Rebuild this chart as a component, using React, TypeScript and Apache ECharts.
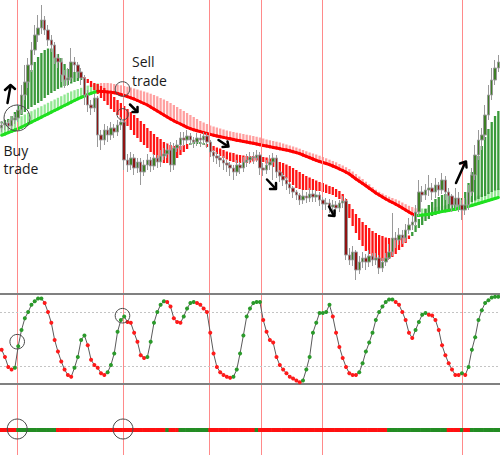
import React, { useEffect, useRef } from "react";
import * as echarts from "echarts";

// ---- price candles (arbitrary price units) ----
const opens = [
  172,175,177,174,180,182,190,205,218,235,
  250,265,272,280,270,260,255,242,238,225,
  220,222,238,235,228,222,205,195,192,202,
  165,160,170,165,172,168,175,178,140,135,
  142,132,138,128,135,140,134,142,138,144,
  146,150,135,152,155,162,160,164,160,158,
  162,160,164,158,148,144,142,140,137,135,
  132,128,135,132,138,140,143,142,145,132,
  130,135,138,142,128,124,120,116,112,108,
  105,100,104,102,106,103,105,100,96,97,
  93,95,92,97,99,45,40,48,30,38,
  42,38,44,40,42,32,38,42,48,62,
  60,65,62,70,75,78,88,108,105,110,
  112,108,115,110,120,108,104,95,102,95,
  90,95,108,125,145,160,165,185,205,220,
  232,
];
const closes = [
  175,177,174,180,182,190,205,218,235,250,
  265,272,280,270,260,255,242,238,225,220,
  222,238,235,228,222,205,195,192,202,165,
  160,170,165,172,168,175,178,140,135,142,
  132,138,128,135,140,134,142,138,144,146,
  150,135,152,155,162,160,164,160,158,162,
  160,164,158,148,144,142,140,137,135,132,
  128,135,132,138,140,143,142,145,132,130,
  135,138,142,128,124,120,116,112,108,105,
  100,104,102,106,103,105,100,96,97,93,
  95,92,97,99,45,40,48,30,38,42,
  38,44,40,42,32,38,42,48,62,60,
  65,62,70,75,78,88,108,105,110,112,
  108,115,110,120,108,104,95,102,95,90,
  95,108,125,145,160,165,185,205,220,232,
  238,
];
const highs = [
  179,181,180,184,186,196,215,235,242,258,
  275,285,295,284,275,265,258,246,242,230,
  232,252,243,238,232,225,210,200,206,204,
  170,176,174,178,176,180,183,180,146,148,
  146,142,142,140,146,143,146,145,150,152,
  156,158,157,160,168,168,170,167,163,167,
  166,168,167,160,150,148,146,144,140,138,
  135,140,138,143,146,148,148,150,148,137,
  140,145,147,145,130,127,123,118,114,110,
  107,110,108,112,110,110,108,103,102,101,
  100,99,100,104,102,52,54,50,44,48,
  46,50,47,47,45,42,47,56,87,68,
  72,70,76,82,85,95,120,114,116,125,
  117,122,118,127,124,112,106,112,108,100,
  102,115,132,155,170,172,195,215,232,240,
  245,
];
const lows = [
  168,170,169,170,176,178,186,200,212,228,
  245,258,266,265,254,248,236,232,218,212,
  214,218,228,222,215,195,188,185,188,153,
  150,155,158,160,162,164,170,130,128,130,
  125,127,115,124,130,128,130,132,133,140,
  142,128,130,148,150,154,156,155,152,154,
  153,155,152,143,138,136,133,130,128,124,
  120,124,126,128,133,136,136,138,125,124,
  126,130,120,122,118,114,110,106,102,100,
  95,96,97,98,98,98,94,90,90,87,
  88,86,88,92,40,35,34,20,26,32,
  30,33,34,35,26,28,34,40,44,52,
  55,56,58,66,70,74,84,98,100,104,
  100,102,104,106,100,96,88,90,88,80,
  85,90,104,120,140,150,160,180,200,215,
  228,
];

// ---- fast ribbon: fast MA vs. middle MA ----
const fastMA = [
  178.5,180,181,184,188,194,201,208,219,230,
  238,243,247,250,251.5,251.5,250,246,242,236,
  231,229,228,229,228,220,217,213,210,206,
  202,199,195,191,188,185,181,178,174,170,
  165,162,158,155,152,148,145,142,139,137,
  137,137.5,139,142,145,148,151,157,158,158,
  158,157,153,151,149,146,144,142,140.5,139,
  138,137,137,137,137,137.5,138.5,139.5,139.5,138,
  136.5,135,133,130,127,125,121.5,118,115,112,
  111,110,110,110,110,109,109,108,107,106,
  105,103,101,97,90,82,74,67,60,54,
  49,46,43,41,39.5,39,39.5,41,43,46,
  50,53,57,61,68,75,81,86,91,95,
  98,101,103,105,106,105.5,104,102,101,102,
  108,117,128,136,144,154,163,171,178,184,
  189,
];
const midMA = [
  176.5,177,177.5,179,181,183,185,188,191,193,
  195,197,199,202,205,207,209,211,212.5,214,
  215,216.5,218,219,220,223,221,219,217,216,
  214,212,209,206,203,200,197,194,191,188,
  185,182,179,176,172,169,166,163,161,158,
  156.5,155,154,154,154,155,156,155,156,156,
  156,155,156,155,154,152.5,151.5,150,148.5,147.5,
  147,145.5,145,144.5,144,144,144,144,143.5,143,
  142.5,141.5,141,139.5,138,137,135.5,134,132,130,
  128,126,124,122.5,121,119.5,118,117,115.5,114,
  113,111,109,106,101,96,91,86,82,78,
  75,72,69,67,65,64,62.5,62,62,62,
  62,63,63.5,64.5,64,68,72,75,79,81,
  84,85,87,88,89,89,90,90.5,91.5,93,
  95,96.5,98,99.5,101,103,104,106,108,109.5,
  110,
];

// ---- slow band: slow MA (thick line) and its companion edge ----
const slowMA = [
  164.7,166,167.3,168.7,170,171.3,172.8,174.5,176.2,177.8,
  179.5,181.2,182.8,184.5,186.2,187.8,189.5,191.2,192.8,194.5,
  196.2,197.8,199.5,201.2,202.6,204,205.4,206.6,207.8,208.7,
  208.6,208.4,208.1,207.7,207.2,206.5,205.5,204.5,203.4,202.2,
  201,199.5,198,196.5,195,193,191,189,187,185,
  183,181,179.2,177.5,176,174.3,172.7,171.4,170.2,169.3,
  168.4,167.4,166.5,165.6,164.8,164,163.3,162.6,161.9,161.2,
  160.5,159.8,159.2,158.6,158,157.3,156.7,156,155.3,154.6,
  154,153.3,152.6,152,151.3,150.6,150,149.2,148.3,147.4,
  146.3,145,143.7,142.3,141,139.7,138.5,137.5,136.5,135.3,
  134,132.7,131,129.5,127.8,126,123.5,121,118.7,116.5,
  114.2,111.8,109.5,107,105,103,101,99.2,97.5,95.8,
  94,92,90,88,86,84.4,84.6,84.9,85.3,85.8,
  86.4,87,87.7,88.4,89,89.6,90.2,90.8,91.5,92.2,
  92.8,93.6,94.5,95.5,96.5,97.5,98.5,99.5,100.5,101.5,
  102.5,
];
const slowEdge = [
  173.8,175.5,177.2,178.8,180.5,182.2,183.8,185.5,187.2,188.8,
  190.5,192.2,193.8,195.5,197.2,198.8,200.5,202.2,203.8,205.5,
  207.2,208.6,209.8,211,212.2,213.3,214.4,215.3,216,216.6,
  217,217,217,216.7,216,215.3,214.7,214,213.3,212.5,
  211.5,210.5,209.5,208.5,207.5,206.3,205,203.7,202,200.5,
  199,197,195,193,191,189,187,185,183,181,
  179,177.5,176,174.5,173.5,172.5,171.5,170.5,169.5,168.7,
  168,167.3,166.7,166,165.3,164.7,164,163.3,162.5,161.5,
  160.5,159.7,159,158.3,157.5,156.5,155.5,154.5,153.5,152.5,
  151.3,150,148.7,147.5,146.5,145.5,144.3,143,141.7,140.3,
  139,137.7,136,134.5,132.8,131,128.5,126,123.5,121,
  118.3,115.7,113,110.3,108.2,106.5,104.8,103.3,102,100.7,
  99.3,97.5,95.8,94.2,93,91.7,91.2,91.5,91.8,92.1,
  92.4,92.8,93.3,94,94.7,95.5,96.5,97.5,98.5,99.5,
  100.5,101.5,102.5,103.5,104.5,105.5,106.5,108,109,110.3,
  111.5,
];

// ---- stochastic oscillator (0-100) ----
const stoch = [
  38,30,19,16,18,42,60,73,80,88,
  92,95,95,90,80,68,49,36,25,16,
  10,8,18,30,49,54,43,27,21,18,
  12,10,13,21,34,58,71,75,69,68,
  57,47,32,29,30,47,68,80,88,92,
  91,86,73,69,68,75,84,90,91,90,
  88,84,80,57,34,19,13,10,8,7,
  8,16,34,54,75,84,90,91,91,71,
  58,49,46,30,21,16,12,8,6,4,
  2,4,16,30,57,68,79,79,80,88,
  75,57,41,29,19,12,10,10,13,23,
  36,46,57,71,80,86,91,94,94,91,
  88,80,71,57,51,60,69,77,79,77,
  76,71,60,43,32,23,16,10,10,12,
  10,19,38,52,71,82,90,93,96,97,
  97,
];
const stochBounds = [100, 0];
const stochLevels = [80, 20];

// ---- trend state bar (1 = up / green, 0 = down / red) ----
const trendState = [
  0,0,0,0,0,1,1,1,1,1,
  1,1,1,1,1,1,1,0,0,0,
  0,0,0,0,0,0,0,0,0,0,
  0,0,0,0,0,0,0,0,0,0,
  0,0,0,0,0,0,0,0,0,0,
  1,0,0,0,1,1,1,1,1,1,
  1,1,1,0,0,0,0,0,0,0,
  0,0,0,0,0,0,0,1,0,0,
  0,0,0,0,0,0,0,0,0,0,
  0,0,0,0,0,0,0,0,0,0,
  0,0,0,0,0,0,0,0,0,0,
  0,0,0,0,0,0,0,1,1,1,
  1,1,1,1,1,1,1,1,1,1,
  1,1,1,1,1,0,0,0,0,1,
  0,0,1,1,1,1,1,1,1,1,
  1,
];

// ---- trade signal bars (bar position of each vertical line) ----
const signalBars = [4.6, 36.6, 62.6, 78.3, 96.8, 139.0];

const bars = closes.map((_, i) => String(i + 1));
const N = bars.length;

const GREEN_RIB = "#3b9a3b";
const RED_RIB = "#ff1414";
const GREEN_LIGHT = "#93e893";
const RED_LIGHT = "#ffa0a0";
const GREEN_LINE = "#1fe01f";
const RED_LINE = "#ff0000";
const TREND_GREEN = "#238c23";
const TREND_RED = "#ff1010";

function slopeUp(arr: number[], i: number): number {
  if (i === 0) return arr[1] >= arr[0] ? 1 : 0;
  return arr[i] > arr[i - 1] ? 1 : 0;
}

function stochColors(): string[] {
  const out: string[] = [];
  let up = true;
  for (let i = 0; i < stoch.length; i++) {
    if (i > 0) {
      if (stoch[i] > stoch[i - 1]) up = true;
      else if (stoch[i] < stoch[i - 1]) up = false;
    } else {
      up = stoch[1] > stoch[0];
    }
    out.push(up ? "#2a9a2a" : "#ff1a1a");
  }
  return out;
}

function buildOption(): any {
  const sColors = stochColors();
  const stripeW = 2.3;

  const bandData = slowMA.map((v, i) => [i, v, slowEdge[i], slopeUp(slowMA, i)]);
  const ribbonData = fastMA.map((v, i) => [i, v, midMA[i]]);
  const segData = slowMA.slice(1).map((v, k) => [k + 1, slowMA[k], v, slopeUp(slowMA, k + 1)]);
  const trendData = trendState.map((s, i) => [i, 1, s]);

  const stripe = (api: any) => {
    const i = api.value(0);
    const p1 = api.coord([i, api.value(1)]);
    const p2 = api.coord([i, api.value(2)]);
    return { p1, p2 };
  };

  const grids = [
    { left: 0, right: 0, top: 0, height: 285 },
    { left: 0, right: 0, top: 294, height: 90 },
    { left: 0, right: 0, top: 428, height: 4 },
    { left: 0, right: 0, top: 0, height: 455 },
  ];

  const xAxes: any[] = [0, 1, 2].map((g) => ({
    type: "category",
    data: bars,
    gridIndex: g,
    show: false,
    boundaryGap: true,
  }));
  xAxes.push({ type: "value", gridIndex: 3, min: -0.5, max: N - 0.5, show: false });

  const yAxes = [
    { type: "value", gridIndex: 0, min: 15, max: 300, show: false },
    { type: "value", gridIndex: 1, min: 0, max: 100, show: false },
    { type: "value", gridIndex: 2, min: 0, max: 1, show: false },
    { type: "value", gridIndex: 3, min: 0, max: 1, show: false },
  ];

  const arrowStyle = { stroke: "#000", lineWidth: 2.5, fill: "none", lineCap: "round", lineJoin: "round" };
  const circleStyle = { stroke: "#4a4a4a", lineWidth: 1, fill: "none" };
  const textStyle = (t: string) => ({ text: t, font: '14px "Open Sans"', fill: "#1a1a1a", verticalAlign: "middle", align: "left" });

  const arrows = [
    [[5, 90], [10.5, 85], [15, 89]],
    [[10.5, 86], [7.5, 103]],
    [[130, 104.5], [137, 111.5]],
    [[132.5, 112], [137.5, 112], [137.5, 107]],
    [[218.5, 140], [227.5, 146]],
    [[222.5, 147], [228.5, 146.5], [227.5, 141.5]],
    [[267, 179.5], [275, 188]],
    [[270, 189], [276, 189], [276, 183]],
    [[329, 206.5], [333.5, 215]],
    [[329, 215.5], [334.5, 216], [334.5, 210.5]],
    [[456, 183], [465, 163]],
    [[460, 163.5], [466, 161.5], [466.5, 167.5]],
  ];
  const circles = [
    [17, 118, 13],
    [122.5, 89, 7.3],
    [122.7, 114.3, 5.7],
    [17.2, 341.7, 7.3],
    [122.5, 315.7, 7.3],
    [17.2, 429, 10],
    [123, 429, 10],
  ];

  const graphic: any[] = [
    ...arrows.map((pts) => ({ type: "polyline", z: 100, shape: { points: pts }, style: arrowStyle })),
    ...circles.map(([cx, cy, r]) => ({ type: "circle", z: 100, shape: { cx, cy, r }, style: circleStyle })),
    { type: "text", z: 100, x: 3.5, y: 150, style: textStyle("Buy") },
    { type: "text", z: 100, x: 3.5, y: 168, style: textStyle("trade") },
    { type: "text", z: 100, x: 132, y: 61, style: textStyle("Sell") },
    { type: "text", z: 100, x: 132, y: 80, style: textStyle("trade") },
  ];

  return {
    animation: false,
    backgroundColor: "#ffffff",
    grid: grids,
    xAxis: xAxes,
    yAxis: yAxes,
    graphic,
    series: [
      {
        name: "signals",
        type: "line",
        xAxisIndex: 3,
        yAxisIndex: 3,
        data: [],
        symbol: "none",
        silent: true,
        z: 1,
        markLine: {
          silent: true,
          symbol: ["none", "none"],
          label: { show: false },
          lineStyle: { color: "#ff8a8a", width: 1, type: "solid" },
          emphasis: { disabled: true },
          data: signalBars.map((b) => ({ xAxis: b })),
        },
      },
      {
        name: "slow band",
        type: "custom",
        xAxisIndex: 0,
        yAxisIndex: 0,
        z: 2,
        silent: true,
        data: bandData,
        renderItem: (params: any, api: any) => {
          const { p1, p2 } = stripe(api);
          const up = api.value(3);
          return {
            type: "rect",
            shape: { x: p1[0] - stripeW / 2, y: Math.min(p1[1], p2[1]), width: stripeW, height: Math.abs(p1[1] - p2[1]) },
            style: { fill: up ? GREEN_LIGHT : RED_LIGHT },
          };
        },
      },
      {
        name: "fast ribbon",
        type: "custom",
        xAxisIndex: 0,
        yAxisIndex: 0,
        z: 3,
        silent: true,
        data: ribbonData,
        renderItem: (params: any, api: any) => {
          const { p1, p2 } = stripe(api);
          const up = api.value(1) > api.value(2);
          return {
            type: "rect",
            shape: { x: p1[0] - stripeW / 2, y: Math.min(p1[1], p2[1]), width: stripeW, height: Math.max(1, Math.abs(p1[1] - p2[1])) },
            style: { fill: up ? GREEN_RIB : RED_RIB },
          };
        },
      },
      {
        name: "slow line",
        type: "custom",
        xAxisIndex: 0,
        yAxisIndex: 0,
        z: 4,
        silent: true,
        data: segData,
        renderItem: (params: any, api: any) => {
          const i = api.value(0);
          const p0 = api.coord([i - 1, api.value(1)]);
          const p1 = api.coord([i, api.value(2)]);
          const up = api.value(3);
          return {
            type: "line",
            shape: { x1: p0[0], y1: p0[1], x2: p1[0], y2: p1[1] },
            style: { stroke: up ? GREEN_LINE : RED_LINE, lineWidth: 3, lineCap: "round" },
          };
        },
      },
      {
        name: "price",
        type: "candlestick",
        xAxisIndex: 0,
        yAxisIndex: 0,
        z: 5,
        barWidth: 3,
        silent: true,
        data: closes.map((c, i) => [opens[i], c, lows[i], highs[i]]),
        itemStyle: {
          color: "#3d7f24",
          color0: "#8e1414",
          borderColor: "#999999",
          borderColor0: "#999999",
          borderWidth: 1,
        },
      },
      {
        name: "stochastic",
        type: "line",
        xAxisIndex: 1,
        yAxisIndex: 1,
        z: 5,
        silent: true,
        symbol: "circle",
        symbolSize: 4,
        showAllSymbol: true,
        lineStyle: { color: "#5a5a5a", width: 1 },
        data: stoch.map((v, i) => ({ value: v, itemStyle: { color: sColors[i] } })),
        markLine: {
          silent: true,
          symbol: ["none", "none"],
          label: { show: false },
          emphasis: { disabled: true },
          data: [
            ...stochBounds.map((v) => ({ yAxis: v, lineStyle: { color: "#808080", width: 2, type: "solid" } })),
            ...stochLevels.map((v) => ({ yAxis: v, lineStyle: { color: "#c4c4c4", width: 1, type: [2, 2] } })),
          ],
        },
      },
      {
        name: "trend",
        type: "custom",
        xAxisIndex: 2,
        yAxisIndex: 2,
        z: 5,
        silent: true,
        data: trendData,
        renderItem: (params: any, api: any) => {
          const i = api.value(0);
          const top = api.coord([i, api.value(1)]);
          const bottom = api.coord([i, 0]);
          const w = api.size([1, 0])[0];
          return {
            type: "rect",
            shape: { x: top[0] - w / 2 - 0.3, y: top[1], width: w + 0.6, height: bottom[1] - top[1] },
            style: { fill: api.value(2) ? TREND_GREEN : TREND_RED },
          };
        },
      },
    ],
  };
}

export default function App() {
  const ref = useRef<HTMLDivElement>(null);
  useEffect(() => {
    if (!ref.current) return;
    const chart = echarts.init(ref.current, null, { renderer: "svg" });
    chart.setOption(buildOption());
    return () => chart.dispose();
  }, []);
  return (
    <div
      ref={ref}
      style={{ position: "fixed", left: 0, top: 0, width: 500, height: 455, background: "#fff" }}
    />
  );
}
